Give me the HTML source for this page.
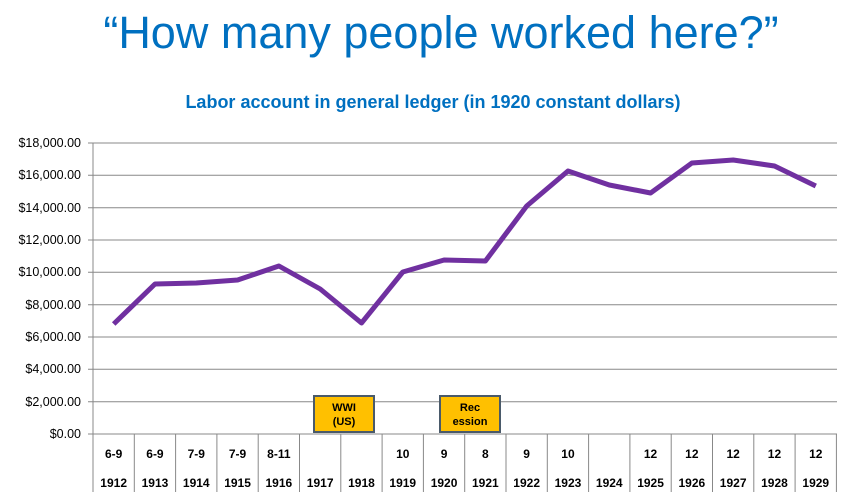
<!DOCTYPE html>
<html><head><style>
body{margin:0;background:#fff;width:844px;height:499px;overflow:hidden;font-family:"Liberation Sans",sans-serif}
</style></head><body>
<svg width="844" height="499" xmlns="http://www.w3.org/2000/svg" font-family="Liberation Sans, sans-serif">
<text x="441" y="48" text-anchor="middle" font-size="45" fill="#0070c0">“How many people worked here?”</text>
<text x="433" y="108" text-anchor="middle" font-size="18" font-weight="bold" fill="#0070c0">Labor account in general ledger (in 1920 constant dollars)</text>
<g stroke="#888" stroke-width="1">
<line x1="88" y1="143" x2="837" y2="143"/><line x1="88" y1="175.3" x2="837" y2="175.3"/>
<line x1="88" y1="207.7" x2="837" y2="207.7"/><line x1="88" y1="240" x2="837" y2="240"/>
<line x1="88" y1="272.3" x2="837" y2="272.3"/><line x1="88" y1="304.7" x2="837" y2="304.7"/>
<line x1="88" y1="337" x2="837" y2="337"/><line x1="88" y1="369.3" x2="837" y2="369.3"/>
<line x1="88" y1="401.7" x2="837" y2="401.7"/><line x1="88" y1="434" x2="837" y2="434"/>
<line x1="93" y1="143" x2="93" y2="492"/>
</g>
<g stroke="#888" stroke-width="1" id="seps"></g>
<g font-size="12.5" fill="#000" text-anchor="end">
<text x="81" y="147">$18,000.00</text><text x="81" y="179">$16,000.00</text>
<text x="81" y="212">$14,000.00</text><text x="81" y="244">$12,000.00</text>
<text x="81" y="276">$10,000.00</text><text x="81" y="309">$8,000.00</text>
<text x="81" y="341">$6,000.00</text><text x="81" y="373">$4,000.00</text>
<text x="81" y="406">$2,000.00</text><text x="81" y="438">$0.00</text>
</g>
<g id="tbl" font-size="12" font-weight="bold" text-anchor="middle"></g>
<polyline fill="none" stroke="#7030a0" stroke-width="5" stroke-linejoin="round" points="113.7,324 155,284 196.3,283 237.6,280 278.9,266 320.2,289 361.5,323 402.8,272 444.1,260 485.4,261 526.7,206 568,171 609.3,185 650.6,193 691.9,163 733.2,160 774.5,166 815.8,186"/>
<rect x="314" y="396" width="60" height="36" fill="#ffc000" stroke="#4a5a6a" stroke-width="2"/>
<text x="344" y="411" text-anchor="middle" font-size="11" font-weight="bold">WWI</text>
<text x="344" y="425" text-anchor="middle" font-size="11" font-weight="bold">(US)</text>
<rect x="440" y="396" width="60" height="36" fill="#ffc000" stroke="#4a5a6a" stroke-width="2"/>
<text x="470" y="411" text-anchor="middle" font-size="11" font-weight="bold">Rec</text>
<text x="470" y="425" text-anchor="middle" font-size="11" font-weight="bold">ession</text>
</svg>
<script>
var labs=["6-9","6-9","7-9","7-9","8-11","","","10","9","8","9","10","","12","12","12","12","12"];
var s=document.getElementById("seps"),t=document.getElementById("tbl"),ns="http://www.w3.org/2000/svg";
for(var i=0;i<18;i++){var x=93+41.3*(i+1);
var l=document.createElementNS(ns,"line");l.setAttribute("x1",x);l.setAttribute("x2",x);l.setAttribute("y1",434);l.setAttribute("y2",492);s.appendChild(l);
var c=93+41.3*(i+0.5);
var a=document.createElementNS(ns,"text");a.setAttribute("x",c);a.setAttribute("y",458);a.textContent=labs[i];t.appendChild(a);
var b=document.createElementNS(ns,"text");b.setAttribute("x",c);b.setAttribute("y",487);b.textContent=1912+i;t.appendChild(b);}
</script>
</body></html>
